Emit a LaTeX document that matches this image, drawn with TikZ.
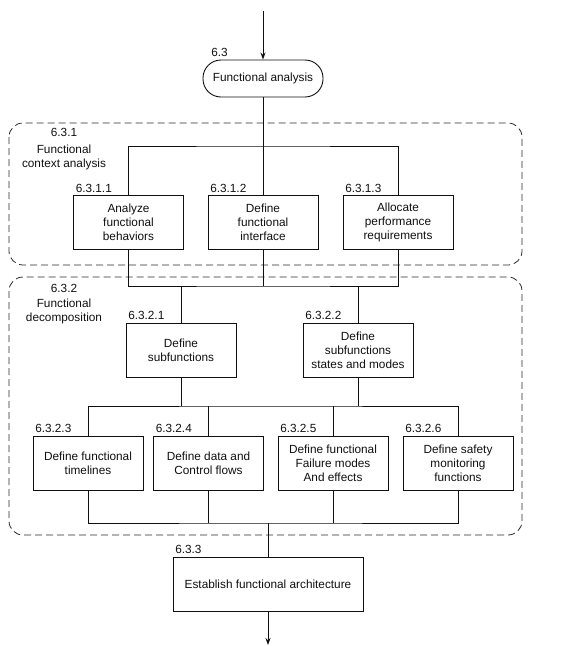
\documentclass[tikz,border=0pt]{standalone}
\usepackage{fontspec}
\setmainfont{Liberation Sans}
\usetikzlibrary{arrows.meta,positioning}
\definecolor{InkDark}{HTML}{101010}
\definecolor{DashGray}{HTML}{2A2A2A}

\begin{document}
\begin{tikzpicture}[x=1pt,y=-1pt,
    font=\fontsize{11.8}{13.8}\selectfont,
    bx/.style={rectangle,draw=InkDark,line width=0.9pt,fill=white,
               minimum width=110pt,minimum height=54pt,
               align=center,inner sep=2pt,text=InkDark},
    lbl/.style={anchor=south west,inner sep=2.5pt,text=InkDark},
    grp/.style={draw=DashGray,line width=0.8pt,dash pattern=on 7pt off 4pt,
                rounded corners=14pt},
    ln/.style={draw=InkDark,line width=1pt},
    ar/.style={ln,-{Stealth[length=7pt,width=5pt]}}]
\useasboundingbox (0,0) rectangle (565,646);

% groups
\draw[grp] (9,123) rectangle (522,265);
\draw[grp] (9,277) rectangle (522,535);
\node[align=center,inner sep=0pt,text=InkDark] (g1) at (64,149) {6.3.1\\[3pt]Functional\\context analysis};
\node[align=center,inner sep=0pt,text=InkDark] (g2) at (64,304) {6.3.2\\[2pt]Functional\\decomposition};

% nodes
\node[bx,rounded corners=18pt,minimum width=120pt,minimum height=37pt] (fa) at (263,78.5) {Functional analysis};
\node[bx] (a1) at (128.5,222.5) {Analyze\\functional\\behaviors};
\node[bx] (a2) at (263,222.5) {Define\\functional\\interface};
\node[bx] (a3) at (398,222.5) {Allocate\\performance\\requirements};
\node[bx] (s1) at (181,350) {Define\\subfunctions};
\node[bx] (s2) at (358,350) {Define\\subfunctions\\states and modes};
\node[bx] (b1) at (88,463) {Define functional\\timelines};
\node[bx] (b2) at (208.5,463) {Define data and\\Control flows};
\node[bx] (b3) at (333,463) {Define functional\\Failure modes\\And effects};
\node[bx] (b4) at (458,463) {Define safety\\monitoring\\functions};
\node[bx,minimum width=190pt] (arch) at (268,584) {Establish functional architecture};

% numbers
\node[lbl,xshift=6pt] at (fa.north west) {6.3};
\foreach \n/\t in {a1/6.3.1.1,a2/6.3.1.2,a3/6.3.1.3,s1/6.3.2.1,s2/6.3.2.2,
                   b1/6.3.2.3,b2/6.3.2.4,b3/6.3.2.5,b4/6.3.2.6,arch/6.3.3}
  \node[lbl] at (\n.north west) {\t};

% junctions
\coordinate (in) at (263,11);
\coordinate (j1) at (263,146);
\coordinate (j2) at (263,286);
\coordinate (j3) at (268,406);
\coordinate (j4) at (268,523);
\coordinate (out) at (268,645);

% connectors
\draw[ar] (in) -- (fa);
\draw[ln] (fa) -- (a2);
\draw[ln] (a1.north) |- (j1) -| (a3.north);
\draw[ln] (a1.south) |- (j2) -| (a3.south);
\draw[ln] (a2) -- (j2);
\draw[ln] (s1.north) -- (s1.north |- j2);
\draw[ln] (s2.north) -- (s2.north |- j2);
\draw[ln] (s1.south) -- (s1.south |- j3);
\draw[ln] (s2.south) -- (s2.south |- j3);
\draw[ln] (b1.north) |- (j3) -| (b4.north);
\draw[ln] (b2.north) -- (b2.north |- j3);
\draw[ln] (b3.north) -- (b3.north |- j3);
\draw[ln] (b1.south) |- (j4) -| (b4.south);
\draw[ln] (b2.south) -- (b2.south |- j4);
\draw[ln] (b3.south) -- (b3.south |- j4);
\draw[ln] (j4) -- (arch);
\draw[ar] (arch) -- (out);
\end{tikzpicture}
\end{document}
